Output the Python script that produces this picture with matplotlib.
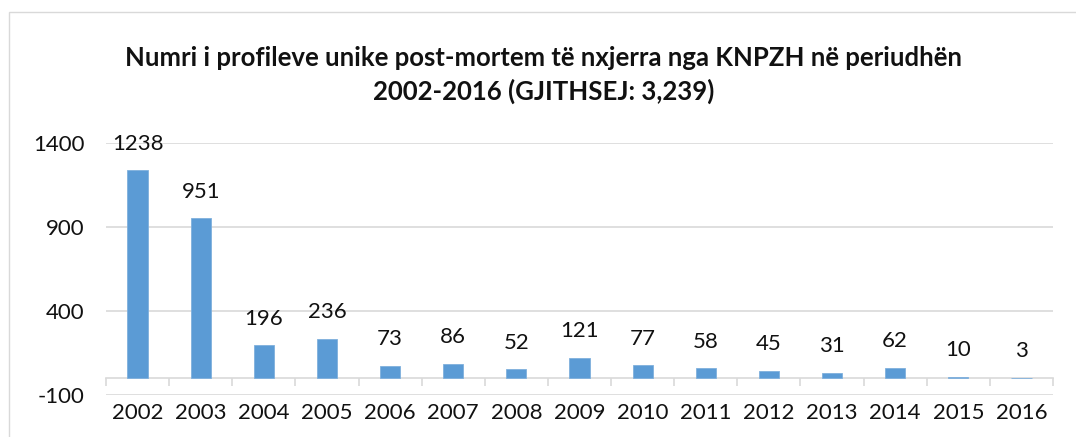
import matplotlib
matplotlib.use("Agg")
import matplotlib.pyplot as plt
from matplotlib.patches import Rectangle

years = ["2002", "2003", "2004", "2005", "2006", "2007", "2008", "2009",
         "2010", "2011", "2012", "2013", "2014", "2015", "2016"]
profiles = [1238, 951, 196, 236, 73, 86, 52, 121, 77, 58, 45, 31, 62, 10, 3]
y_ticks = [-100, 400, 900, 1400]
title = ("Numri i profileve unike post-mortem të nxjerra nga KNPZH në periudhën\n"
         "2002-2016 (GJITHSEJ: 3,239)")

plt.rcParams["font.family"] = ["Lato", "DejaVu Sans"]

W, H = 1076, 437
fig = plt.figure(figsize=(W / 100, H / 100), dpi=100)

# chart frame
fig.patches.append(Rectangle((9 / W, -0.1), 1.2, (H - 12) / H + 0.1,
                             transform=fig.transFigure, fill=False,
                             edgecolor="#d9d9d9", lw=1.0))

ax = fig.add_axes([106 / W, (H - 395) / H, (1053 - 106) / W, (395 - 143) / H])
x = list(range(len(years)))
ax.bar(x, profiles, width=0.32, color="#5B9BD5", edgecolor="#7fb0dd", lw=0.6, zorder=3)

for xi, v in zip(x, profiles):
    ax.annotate(str(v), (xi, v), xytext=(0, 12), textcoords="offset points",
                ha="center", va="bottom", fontsize=16, color="#111111")

ax.set_xlim(-0.5, len(years) - 0.5)
ax.set_ylim(-100, 1400)
ax.set_yticks(y_ticks)
ax.set_yticklabels([str(t) for t in y_ticks])
ax.yaxis.grid(True, color="#d9d9d9", lw=1.2)
ax.set_axisbelow(True)
ax.tick_params(axis="y", length=0, pad=15.5, labelsize=16, labelcolor="#111111")

ax.spines["bottom"].set_position(("data", 0))
ax.spines["bottom"].set_color("#d9d9d9")
ax.spines["bottom"].set_linewidth(1.2)
for s in ["top", "right", "left"]:
    ax.spines[s].set_visible(False)

ax.set_xticks(x)
ax.set_xticklabels(years)
ax.set_xticks([i - 0.5 for i in range(len(years) + 1)], minor=True)
ax.tick_params(axis="x", which="major", length=0, pad=18, labelsize=16, labelcolor="#111111")
ax.tick_params(axis="x", which="minor", length=6, width=1.2, color="#d9d9d9", direction="out")

fig.text(0.505, (H - 75) / H, title, ha="center", va="center", fontsize=18.5,
         fontweight="bold", linespacing=1.4, color="#111111")

fig.savefig("out.png", dpi=100)
